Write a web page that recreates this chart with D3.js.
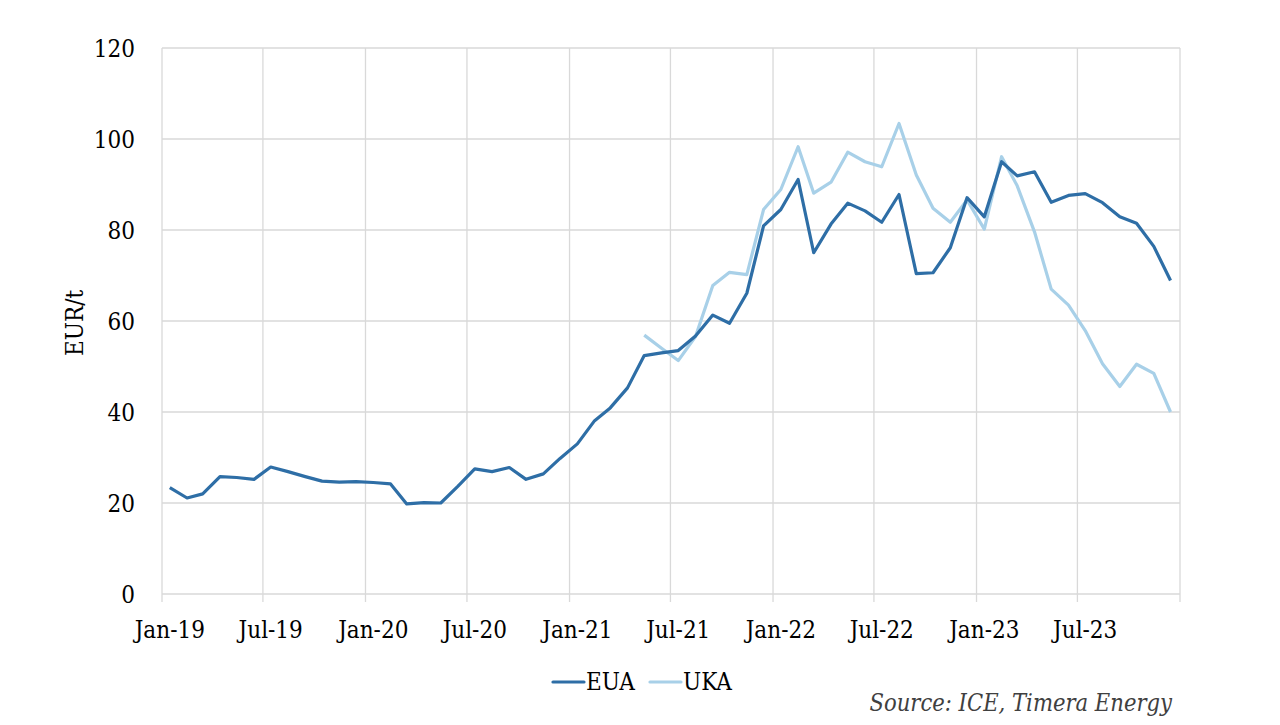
<!DOCTYPE html>
<html>
<head>
<meta charset="utf-8">
<script src="https://cdn.jsdelivr.net/npm/d3@7"></script>
<style>
  html, body { margin: 0; padding: 0; background: #ffffff; }
  svg { display: block; }
  text { font-family: "DejaVu Serif", "Liberation Serif", serif; font-stretch: condensed; }
</style>
</head>
<body>
<svg id="chart" width="1280" height="725"></svg>
<script>
// data (monthly averages)
const months = [
  '2019-01','2019-02','2019-03','2019-04','2019-05','2019-06','2019-07','2019-08','2019-09','2019-10','2019-11','2019-12',
  '2020-01','2020-02','2020-03','2020-04','2020-05','2020-06','2020-07','2020-08','2020-09','2020-10','2020-11','2020-12',
  '2021-01','2021-02','2021-03','2021-04','2021-05','2021-06','2021-07','2021-08','2021-09','2021-10','2021-11','2021-12',
  '2022-01','2022-02','2022-03','2022-04','2022-05','2022-06','2022-07','2022-08','2022-09','2022-10','2022-11','2022-12',
  '2023-01','2023-02','2023-03','2023-04','2023-05','2023-06','2023-07','2023-08','2023-09','2023-10','2023-11','2023-12'
];

const euaValues = [
  23.4, 21.1, 22.0, 25.8, 25.6, 25.2, 27.9, 26.9, 25.8, 24.8, 24.6, 24.7,
  24.5, 24.2, 19.8, 20.1, 20.0, 23.7, 27.5, 26.9, 27.8, 25.2, 26.4, 29.8,
  33.0, 38.1, 40.9, 45.3, 52.4, 53.0, 53.5, 56.7, 61.3, 59.5, 66.1, 80.9,
  84.5, 91.1, 75.0, 81.3, 85.9, 84.2, 81.7, 87.8, 70.4, 70.6, 76.1, 87.1,
  82.9, 95.0, 91.9, 92.8, 86.1, 87.6, 88.0, 86.0, 82.9, 81.5, 76.4, 68.9
];

const ukaValues = [
  null, null, null, null, null, null, null, null, null, null, null, null,
  null, null, null, null, null, null, null, null, null, null, null, null,
  null, null, null, null, 56.9, 54.0, 51.3, 56.6, 67.8, 70.7, 70.2, 84.5,
  88.9, 98.3, 88.1, 90.5, 97.1, 95.0, 93.9, 103.4, 92.1, 84.8, 81.7, 86.6,
  80.2, 96.1, 89.7, 79.6, 67.0, 63.5, 57.9, 50.6, 45.6, 50.5, 48.5, 40.0
];

const xTickLabels = ['Jan-19','Jul-19','Jan-20','Jul-20','Jan-21','Jul-21','Jan-22','Jul-22','Jan-23','Jul-23'];
const yTicks = [0, 20, 40, 60, 80, 100, 120];

const seriesNames = ['EUA', 'UKA'];
const seriesColors = ['#2e6ea6', '#a8d0e8'];

// configs
const PLOT_LEFT = 162;
const PLOT_RIGHT = 1180;
const PLOT_TOP = 48;
const PLOT_BOTTOM = 594;
const GRID_COLOR = '#d9d9d9';
const TEXT_COLOR = '#000000';
const FONT_SIZE = 24;
const LINE_W = 3.2;
const MID_MONTH_DAYS = 14;   // points and month labels sit mid-month

const svg = d3.select('#chart');

const parseMonth = d3.timeParse('%Y-%m');
const dates = months.map(m => d3.timeDay.offset(parseMonth(m), MID_MONTH_DAYS));

const x = d3.scaleTime()
  .domain([new Date(2019, 0, 1), new Date(2024, 0, 1)])
  .range([PLOT_LEFT, PLOT_RIGHT]);

const y = d3.scaleLinear()
  .domain([0, 120])
  .range([PLOT_BOTTOM, PLOT_TOP]);

const xTickDates = d3.timeMonth.every(6).range(new Date(2019, 0, 1), new Date(2024, 0, 2));

// horizontal gridlines
svg.append('g')
  .attr('class', 'y-grid')
  .selectAll('line')
  .data(yTicks)
  .join('line')
  .attr('x1', PLOT_LEFT)
  .attr('x2', PLOT_RIGHT)
  .attr('y1', d => y(d))
  .attr('y2', d => y(d))
  .attr('stroke', GRID_COLOR)
  .attr('stroke-width', 1.3);

// vertical gridlines, running a little below the zero line as tick marks
svg.append('g')
  .attr('class', 'x-grid')
  .selectAll('line')
  .data(xTickDates)
  .join('line')
  .attr('x1', d => x(d))
  .attr('x2', d => x(d))
  .attr('y1', PLOT_TOP)
  .attr('y2', PLOT_BOTTOM + 8)
  .attr('stroke', GRID_COLOR)
  .attr('stroke-width', 1.3);

// y tick labels
svg.append('g')
  .attr('class', 'y-labels')
  .selectAll('text')
  .data(yTicks)
  .join('text')
  .attr('x', 135)
  .attr('y', d => y(d))
  .attr('dy', '0.36em')
  .attr('text-anchor', 'end')
  .attr('font-size', FONT_SIZE)
  .attr('fill', TEXT_COLOR)
  .text(d => d);

// x tick labels, centred on the middle of the labelled month
svg.append('g')
  .attr('class', 'x-labels')
  .selectAll('text')
  .data(xTickLabels)
  .join('text')
  .attr('x', (d, i) => x(d3.timeDay.offset(xTickDates[i], MID_MONTH_DAYS)))
  .attr('y', 638)
  .attr('text-anchor', 'middle')
  .attr('font-size', FONT_SIZE)
  .attr('fill', TEXT_COLOR)
  .text(d => d);

// y axis title
svg.append('text')
  .attr('transform', 'translate(83, 323) rotate(-90)')
  .attr('text-anchor', 'middle')
  .attr('font-size', FONT_SIZE)
  .attr('fill', TEXT_COLOR)
  .text('EUR/t');

// lines
const line = d3.line()
  .defined(d => d.v != null)
  .x(d => x(d.date))
  .y(d => y(d.v));

const series = [euaValues, ukaValues].map((vals, i) => ({
  name: seriesNames[i],
  color: seriesColors[i],
  points: vals.map((v, j) => ({ date: dates[j], v: v }))
}));

// draw UKA first so EUA sits on top
svg.append('g')
  .attr('class', 'lines')
  .selectAll('path')
  .data(series.slice().reverse())
  .join('path')
  .attr('fill', 'none')
  .attr('stroke', d => d.color)
  .attr('stroke-width', LINE_W)
  .attr('stroke-linejoin', 'round')
  .attr('d', d => line(d.points));

// legend
const legend = svg.append('g').attr('class', 'legend');
const legendX = [553, 650];
series.forEach((s, i) => {
  const g = legend.append('g').attr('transform', `translate(${legendX[i]}, 682)`);
  g.append('line')
    .attr('x1', 0).attr('x2', 31)
    .attr('y1', 0).attr('y2', 0)
    .attr('stroke', s.color)
    .attr('stroke-width', LINE_W)
    .attr('stroke-linecap', 'round');
  g.append('text')
    .attr('x', 33)
    .attr('y', 8)
    .attr('font-size', FONT_SIZE)
    .attr('fill', TEXT_COLOR)
    .text(s.name);
});

// source note
svg.append('text')
  .attr('x', 1172)
  .attr('y', 711)
  .attr('text-anchor', 'end')
  .attr('font-size', 23.5)
  .attr('font-style', 'italic')
  .attr('fill', '#404040')
  .text('Source: ICE, Timera Energy');
</script>
</body>
</html>
